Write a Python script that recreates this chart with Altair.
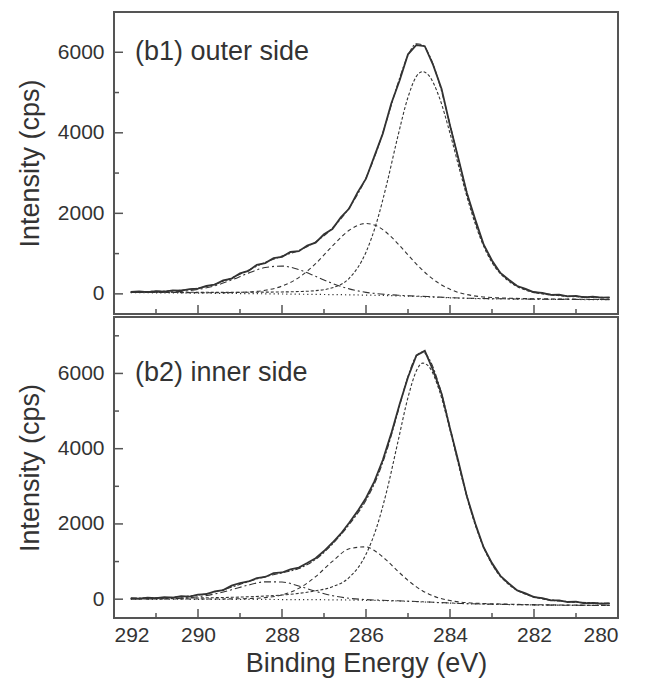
import altair as alt
import pandas as pd

# ---------------- data ----------------
E_fit = [291.6, 291.2, 290.8, 290.4, 290.0, 289.6, 289.2, 288.8, 288.4, 288.0,
         287.6, 287.2, 286.8, 286.4, 286.0, 285.75, 285.5, 285.25, 285.0, 284.8,
         284.65, 284.5, 284.25, 284.0, 283.75, 283.5, 283.25, 283.0, 282.6, 282.2,
         281.8, 281.4, 281.0, 280.6, 280.2]

E_meas = [291.6, 291.4, 291.2, 291.0, 290.8, 290.6, 290.4, 290.2, 290.0, 289.8,
          289.6, 289.4, 289.2, 289.0, 288.8, 288.6, 288.4, 288.2, 288.0, 287.8,
          287.6, 287.4, 287.2, 287.0, 286.8, 286.6, 286.4, 286.2, 286.0, 285.8,
          285.6, 285.4, 285.2, 285.0, 284.8, 284.6, 284.4, 284.2, 284.0, 283.8,
          283.6, 283.4, 283.2, 283.0, 282.8, 282.6, 282.4, 282.2, 282.0, 281.8,
          281.6, 281.4, 281.2, 281.0, 280.8, 280.6, 280.4, 280.2]

# (b1) outer side
b1_meas = [48, 62, 45, 70, 55, 85, 80, 120, 130, 200,
           230, 335, 380, 510, 570, 720, 765, 890, 920, 1040,
           1060, 1200, 1270, 1480, 1610, 1900, 2120, 2520, 2860, 3420,
           3980, 4720, 5300, 5950, 6180, 6150, 5680, 5090, 4180, 3360,
           2510, 1850, 1230, 830, 520, 350, 195, 125, 40, 25,
           -25, -20, -60, -50, -85, -70, -95, -85]
b1_env = [56, 60, 68, 91, 142, 240, 396, 589, 780, 937, 1079, 1290, 1635, 2138, 2884,
          3531, 4332, 5196, 5918, 6213, 6183, 5945, 5212, 4205, 3131, 2149, 1363, 812,
          335, 110, 15, -34, -62, -79, -92]
b1_p1 = [42, 42, 41, 40, 39, 38, 38, 40, 43, 48, 57, 80, 152, 387, 1035, 1764, 2753,
         3875, 4883, 5401, 5520, 5418, 4866, 3988, 2999, 2068, 1312, 777, 313, 93, 0,
         -46, -72, -88, -100]
b1_p2 = [37, 36, 34, 32, 30, 29, 33, 46, 88, 193, 404, 749, 1187, 1579, 1749, 1689,
         1512, 1256, 967, 740, 585, 444, 253, 114, 20, -37, -72, -92, -108, -118, -123,
         -128, -132, -135, -138]
b1_p3 = [37, 38, 43, 63, 109, 201, 345, 515, 653, 690, 602, 435, 260, 124, 38, 6, -17,
         -33, -46, -56, -62, -69, -81, -93, -102, -110, -115, -119, -124, -129, -132,
         -136, -138, -140, -142]
b1_bg = [30, 28, 25, 22, 18, 14, 10, 6, 2, -3, -8, -13, -18, -24, -31, -36, -42, -49,
         -57, -64, -70, -76, -87, -98, -107, -114, -119, -123, -127, -132, -135, -138,
         -140, -142, -144]

# (b2) inner side
b2_meas = [30, 15, 40, 25, 55, 40, 80, 70, 120, 135,
           210, 240, 360, 430, 470, 560, 590, 690, 710, 790,
           840, 960, 1090, 1280, 1500, 1740, 2030, 2340, 2690, 3130,
           3700, 4400, 5180, 5900, 6480, 6600, 6080, 5460, 4540, 3660,
           2740, 2020, 1380, 960, 620, 420, 235, 155, 55, 30,
           -30, -30, -75, -65, -110, -100, -125, -115]
b2_env = [26, 33, 43, 65, 110, 193, 320, 468, 600, 699, 814, 1057, 1463, 1985, 2631,
          3196, 3971, 4939, 5922, 6465, 6570, 6395, 5653, 4566, 3403, 2357, 1531, 940,
          401, 140, 18, -43, -75, -96, -108]
b2_p1 = [18, 21, 24, 28, 33, 40, 50, 64, 83, 111, 154, 222, 330, 578, 1192, 1898, 2901,
         4132, 5361, 6069, 6275, 6179, 5529, 4496, 3363, 2331, 1512, 925, 389, 130, 9,
         -50, -81, -101, -113]
b2_p2 = [4, 5, 5, 5, 5, 6, 9, 17, 42, 114, 287, 599, 1005, 1339, 1392, 1253, 1023, 754,
         500, 327, 220, 134, 29, -37, -77, -100, -114, -123, -132, -142, -149, -154,
         -158, -162, -164]
b2_p3 = [4, 7, 12, 28, 66, 139, 251, 375, 461, 456, 351, 210, 94, 24, -11, -23, -33,
         -43, -53, -61, -69, -76, -89, -101, -113, -122, -129, -134, -140, -148, -154,
         -159, -162, -165, -167]
b2_bg = [0, 0, -1, -2, -3, -4, -5, -6, -7, -9, -11, -13, -17, -22, -29, -34, -40, -48,
         -57, -65, -72, -79, -92, -104, -115, -124, -131, -136, -142, -150, -156, -160,
         -163, -166, -168]

x_major = [292, 290, 288, 286, 284, 282, 280]
x_minor = [291, 289, 287, 285, 283, 281]
b1_ymajor = [0, 2000, 4000, 6000]
b1_yminor = [1000, 3000, 5000]
b2_ymajor = [0, 2000, 4000, 6000]
b2_yminor = [1000, 3000, 5000, 7000]
b1_domain = [-500, 7000]
b2_domain = [-500, 7500]
labels = ["(b1) outer side", "(b2) inner side"]
label_pos = [291.5, 6000]

# ---------------- styling ----------------
INK = "#333333"
FRAME = "#555555"
FONT = "Liberation Sans"
W = 504
H1, H2 = 302, 301


def panel(meas, env, p1, p2, p3, bg, ydom, ymajor, yminor, label, height, bottom):
    xs = alt.Scale(domain=[280, 292], reverse=True, nice=False, zero=False)
    ys = alt.Scale(domain=ydom, nice=False, zero=False)
    if bottom:
        xaxis = alt.Axis(values=x_major, format="d", ticks=False, domain=False,
                         grid=False, labelFontSize=21, labelColor=INK, labelPadding=6,
                         title="Binding Energy (eV)", titleFontSize=27,
                         titleFontWeight="normal", titleColor=INK, titlePadding=5)
    else:
        xaxis = None
    yaxis = alt.Axis(values=ymajor, format="d", ticks=False, domain=False, grid=False,
                     labelFontSize=21, labelColor=INK, labelPadding=10,
                     title="Intensity (cps)", titleFontSize=27,
                     titleFontWeight="normal", titleColor=INK, titlePadding=13)
    X = alt.X("E:Q", scale=xs, axis=xaxis)
    Y = alt.Y("I:Q", scale=ys, axis=yaxis)

    def line(E, I, dash, width, interp):
        kw = dict(color=INK, strokeWidth=width, interpolate=interp, clip=True)
        if dash:
            kw["strokeDash"] = dash
        return alt.Chart(pd.DataFrame({"E": E, "I": I})).mark_line(**kw).encode(x=X, y=Y)

    layers = [
        line(E_fit, bg, [1.2, 3], 1.2, "monotone"),
        line(E_fit, p3, [7, 3, 2, 3], 1.1, "monotone"),
        line(E_fit, p2, [4, 3], 1.1, "monotone"),
        line(E_fit, p1, [3, 2], 1.1, "monotone"),
        line(E_meas, meas, None, 1.8, "linear"),
        line(E_fit, env, [6, 2, 2, 2], 1.1, "monotone"),
    ]
    # inward ticks on the left axis
    ymaj = alt.Chart(pd.DataFrame({"I": ymajor})).mark_rule(
        color=FRAME, strokeWidth=1.5).encode(y=Y, x=alt.value(0), x2=alt.value(9))
    ymin = alt.Chart(pd.DataFrame({"I": yminor})).mark_rule(
        color=FRAME, strokeWidth=1.5).encode(y=Y, x=alt.value(0), x2=alt.value(5))
    # inward ticks on the bottom axis
    xmaj = alt.Chart(pd.DataFrame({"E": x_major})).mark_rule(
        color=FRAME, strokeWidth=1.5).encode(x=X, y=alt.value(height), y2=alt.value(height - 9))
    xmin = alt.Chart(pd.DataFrame({"E": x_minor})).mark_rule(
        color=FRAME, strokeWidth=1.5).encode(x=X, y=alt.value(height), y2=alt.value(height - 5))
    txt = alt.Chart(pd.DataFrame({"E": [label_pos[0]], "I": [label_pos[1]], "t": [label]})).mark_text(
        align="left", baseline="middle", fontSize=27, color=INK, font=FONT).encode(x=X, y=Y, text="t:N")
    return alt.layer(*layers, ymaj, ymin, xmaj, xmin, txt).properties(width=W, height=height)


top = panel(b1_meas, b1_env, b1_p1, b1_p2, b1_p3, b1_bg, b1_domain, b1_ymajor, b1_yminor,
            labels[0], H1, False)
bot = panel(b2_meas, b2_env, b2_p1, b2_p2, b2_p3, b2_bg, b2_domain, b2_ymajor, b2_yminor,
            labels[1], H2, True)

chart = alt.vconcat(top, bot, spacing=0).properties(
    padding={"left": 7, "top": 3, "right": 5, "bottom": 2}
).configure(font=FONT).configure_view(stroke=FRAME, strokeWidth=2)

chart.save("out.html", embed_options={"renderer": "svg", "actions": False})
